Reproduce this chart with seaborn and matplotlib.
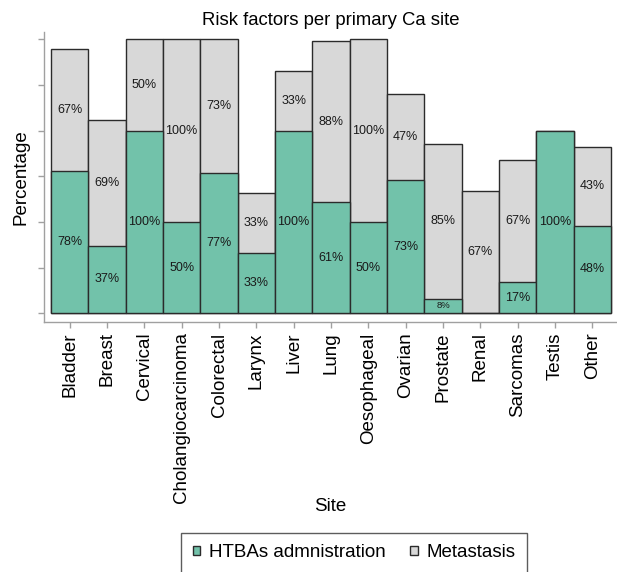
import numpy as np
import pandas as pd
import matplotlib
matplotlib.use("Agg")
import matplotlib.pyplot as plt
from matplotlib.patches import Patch
import seaborn as sns

# Primary cancer sites and the share (%) of each risk factor
sites = ["Bladder", "Breast", "Cervical", "Cholangiocarcinoma", "Colorectal",
         "Larynx", "Liver", "Lung", "Oesophageal", "Ovarian", "Prostate",
         "Renal", "Sarcomas", "Testis", "Other"]
htbas = [78, 37, 100, 50, 77, 33, 100, 61, 50, 73, 8, 0, 17, 100, 48]
metastasis = [67, 69, 50, 100, 73, 33, 33, 88, 100, 47, 85, 67, 67, 0, 43]

green = "#72c2aa"
grey = "#d8d8d8"
edge = "#2b2b2b"
axis_grey = "#a0a0a0"

sns.set_style("white")
plt.rcParams["font.family"] = ["Liberation Sans", "DejaVu Sans"]
plt.rcParams["text.color"] = "black"
plt.rcParams["axes.labelcolor"] = "black"
plt.rcParams["xtick.color"] = "black"
plt.rcParams["ytick.color"] = "black"

df = pd.DataFrame({"Site": sites, "HTBAs": htbas, "Metastasis": metastasis})
df["Total"] = df["HTBAs"] + df["Metastasis"]

fig = plt.figure(figsize=(6.17, 5.72), dpi=100)
ax = fig.add_axes([44 / 617, 1 - 322 / 572, (617 - 44) / 617, (322 - 32) / 572])

# Stacked bars: full stack in grey, HTBAs portion drawn over it in green
sns.barplot(data=df, x="Site", y="Total", order=sites, color=grey, width=1.0,
            saturation=1, edgecolor=edge, linewidth=1.0, ax=ax)
sns.barplot(data=df, x="Site", y="HTBAs", order=sites, color=green, width=1.0,
            saturation=1, edgecolor=edge, linewidth=1.0, ax=ax)

# Percentage labels centred inside each segment
for i, (g, m) in enumerate(zip(htbas, metastasis)):
    if g > 0:
        ax.text(i, g / 2, f"{g}%", ha="center", va="center",
                fontsize=6.8 if g < 10 else 9, color="#1a1a1a")
    if m > 0:
        ax.text(i, g + m / 2, f"{m}%", ha="center", va="center",
                fontsize=9, color="#1a1a1a")

ax.set_xlim(-0.6875, 14.66)
ax.set_ylim(-4.8, 154.1)
ax.set_yticks(np.arange(0, 151, 25))
ax.set_yticklabels([])
ax.set_xticks(range(len(sites)))
ax.set_xticklabels(sites, rotation=90, fontsize=13.5)

for side in ["top", "right"]:
    ax.spines[side].set_visible(False)
for side in ["left", "bottom"]:
    ax.spines[side].set_color(axis_grey)
    ax.spines[side].set_linewidth(1.0)
ax.tick_params(axis="both", which="both", length=4.5, width=1.0,
               color=axis_grey, labelcolor="black", direction="out",
               left=True, bottom=True)
ax.tick_params(axis="x", pad=3)

ax.set_xlabel("Site", fontsize=13.5)
ax.xaxis.set_label_coords(0.5, (322 - 498) / 290)
ax.set_ylabel("Percentage", fontsize=13.5)
ax.yaxis.set_label_coords(-14 / 573, 0.5)
ax.set_title("Risk factors per primary Ca site", fontsize=13.3, pad=5)

handles = [Patch(facecolor=green, edgecolor=edge, label="HTBAs admnistration"),
           Patch(facecolor=grey, edgecolor=edge, label="Metastasis")]
leg = fig.legend(handles=handles, loc="upper center", ncol=2,
                 bbox_to_anchor=(354 / 617, 1 - 533 / 572), fontsize=13.5,
                 frameon=True, fancybox=False, handlelength=0.42,
                 handleheight=0.42, handletextpad=0.45, columnspacing=1.3,
                 borderpad=0.6, borderaxespad=0)
leg.get_frame().set_edgecolor("#333333")
leg.get_frame().set_linewidth(1.0)

fig.savefig("out.png", dpi=100)
